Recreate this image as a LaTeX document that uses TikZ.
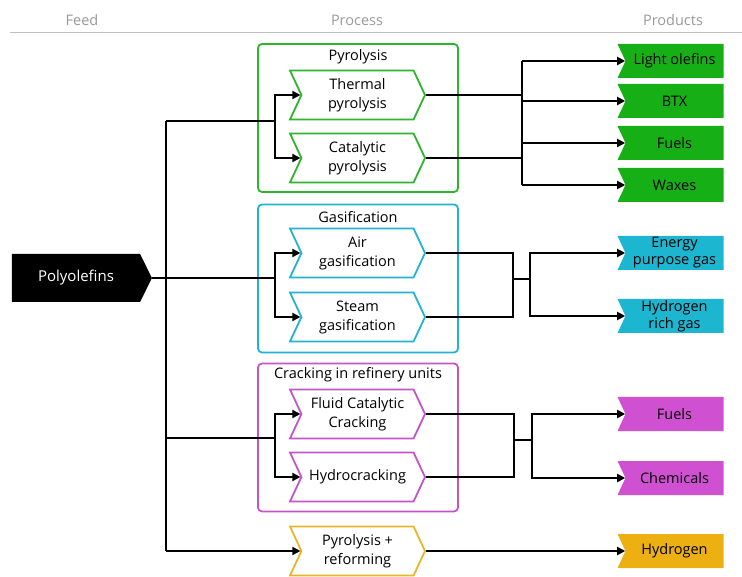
\documentclass[tikz,border=0pt]{standalone}
\usepackage{fontspec}
\setmainfont{Open Sans}
\usetikzlibrary{positioning, shapes.symbols, arrows.meta}

\definecolor{pyrgreen}{HTML}{2DB52D}
\definecolor{prodgreen}{HTML}{16B016}
\definecolor{gascyan}{HTML}{22B4CC}
\definecolor{prodcyan}{HTML}{1CB6D0}
\definecolor{crkpink}{HTML}{C454C8}
\definecolor{prodpink}{HTML}{D050D2}
\definecolor{refyellow}{HTML}{E8B52A}
\definecolor{prodyellow}{HTML}{EDB012}

\begin{document}
\begin{tikzpicture}[
    x=1pt, y=-1pt,
    proc/.style={signal, signal to=east, signal from=west, signal pointer angle=130,
        draw=#1, line width=1.8pt, fill=white, minimum width=135pt, minimum height=49pt,
        inner sep=0pt, align=center, font=\fontsize{14.5}{19}\selectfont},
    prod/.style={signal, signal to=nowhere, signal from=west, signal pointer angle=130,
        fill=#1, minimum width=106pt, minimum height=34pt, inner sep=0pt,
        align=center, font=\fontsize{14.5}{17}\selectfont},
    grp/.style={draw=#1, line width=1.8pt, rounded corners=4pt,
        minimum width=200pt, minimum height=148pt, inner sep=0pt},
    grptitle/.style={font=\fontsize{14.5}{17}\selectfont, inner sep=0pt},
    head/.style={text=black!40, font=\fontsize{14.5}{17}\selectfont, inner sep=0pt},
    edge/.style={line width=1.7pt, black},
    arr/.style={edge, -{Triangle[length=8pt, width=8pt]}}
]
    \useasboundingbox (0,0) rectangle (742,577);

    % --- Headers
    \node[head] (hfeed) at (82,20) {Feed};
    \node[head] (hproc) at (357,20) {Process};
    \node[head] (hprod) at (673,20) {Products};
    \draw[black!25, line width=0.8pt] (10,32) -- (742,32);

    % --- Feed
    \node[signal, signal to=east, signal pointer angle=127, fill=black, text=white,
        minimum width=140pt, minimum height=48pt, inner sep=0pt,
        font=\fontsize{15}{18}\selectfont] (feed) at (76,278) {Polyolefins};

    % --- Group boxes
    \node[grp=pyrgreen]  (pyrbox) at (358,118) {};
    \node[grp=gascyan]   (gasbox) at (358,278.5) {};
    \node[grp=crkpink]   (crkbox) at (358,437.5) {};
    \node[grptitle] (pyrtitle) at (358,57)  {Pyrolysis};
    \node[grptitle] (gastitle) at (358,217) {Gasification};
    \node[grptitle] (crktitle) at (358,375) {Cracking in refinery units};

    % --- Processes
    \node[proc=pyrgreen]  (thermal)   at (357.5,95)  {Thermal\\pyrolysis};
    \node[proc=pyrgreen]  (catalytic) at (357.5,158) {Catalytic\\pyrolysis};
    \node[proc=gascyan]   (air)       at (357.5,253) {Air\\gasification};
    \node[proc=gascyan]   (steam)     at (357.5,317) {Steam\\gasification};
    \node[proc=crkpink]   (fcc)       at (357.5,414) {Fluid Catalytic\\Cracking};
    \node[proc=crkpink]   (hydro)     at (357.5,477) {Hydrocracking};
    \node[proc=refyellow] (reform)    at (357.5,551) {Pyrolysis +\\reforming};

    % --- Products
    \node[prod=prodgreen]  (olefins) at (674.5,61)  {Light olefins};
    \node[prod=prodgreen]  (btx)     at (674.5,101) {BTX};
    \node[prod=prodgreen]  (fuelsA)  at (674.5,143) {Fuels};
    \node[prod=prodgreen]  (waxes)   at (674.5,185) {Waxes};
    \node[prod=prodcyan]   (energy)  at (674.5,253) {Energy\\purpose gas};
    \node[prod=prodcyan]   (h2rich)  at (674.5,316) {Hydrogen\\rich gas};
    \node[prod=prodpink]   (fuelsB)  at (674.5,414) {Fuels};
    \node[prod=prodpink]   (chem)    at (674.5,478) {Chemicals};
    \node[prod=prodyellow] (h2)      at (674.5,551) {Hydrogen};

    % --- Feed to processes
    \coordinate (trunktop) at (166,121);
    \coordinate (trunkbot) at (166,551);
    \coordinate (pyrjoin) at (275,121);
    \coordinate (gasjoin) at (275,278);
    \coordinate (crkjoin) at (275,438);
    \draw[edge] (trunktop) -- (trunkbot);
    \draw[edge] (trunktop) -- (pyrjoin);
    \draw[edge] (feed.east) -- (gasjoin);
    \draw[edge] (trunktop |- crkjoin) -- (crkjoin);
    \draw[arr] (pyrjoin) |- (thermal.west);
    \draw[arr] (pyrjoin) |- (catalytic.west);
    \draw[arr] (gasjoin) |- (air.west);
    \draw[arr] (gasjoin) |- (steam.west);
    \draw[arr] (crkjoin) |- (fcc.west);
    \draw[arr] (crkjoin) |- (hydro.west);
    \draw[arr] (trunkbot) -- (reform.west);

    % --- Pyrolysis to products
    \coordinate (pyrbus) at (522,61);
    \coordinate (pyrbusend) at (522,185);
    \draw[edge] (thermal.east) -- (thermal.east -| pyrbus);
    \draw[edge] (catalytic.east) -- (catalytic.east -| pyrbus);
    \draw[edge] (pyrbus) -- (pyrbusend);
    \foreach \p in {olefins, btx, fuelsA, waxes}
        \draw[arr] (pyrbus |- \p.west) -- (\p.west);

    % --- Gasification to products
    \coordinate (gasA) at (513,279);
    \coordinate (gasB) at (530,279);
    \draw[edge] (air.east) -| (gasA);
    \draw[edge] (steam.east) -| (gasA);
    \draw[edge] (gasA) -- (gasB);
    \draw[arr] (gasB) |- (energy.west);
    \draw[arr] (gasB) |- (h2rich.west);

    % --- Cracking to products
    \coordinate (crkA) at (514,440);
    \coordinate (crkB) at (532,440);
    \draw[edge] (fcc.east) -| (crkA);
    \draw[edge] (hydro.east) -| (crkA);
    \draw[edge] (crkA) -- (crkB);
    \draw[arr] (crkB) |- (fuelsB.west);
    \draw[arr] (crkB) |- (chem.west);

    % --- Reforming to product
    \draw[arr] (reform.east) -- (h2.west);

\end{tikzpicture}
\end{document}
